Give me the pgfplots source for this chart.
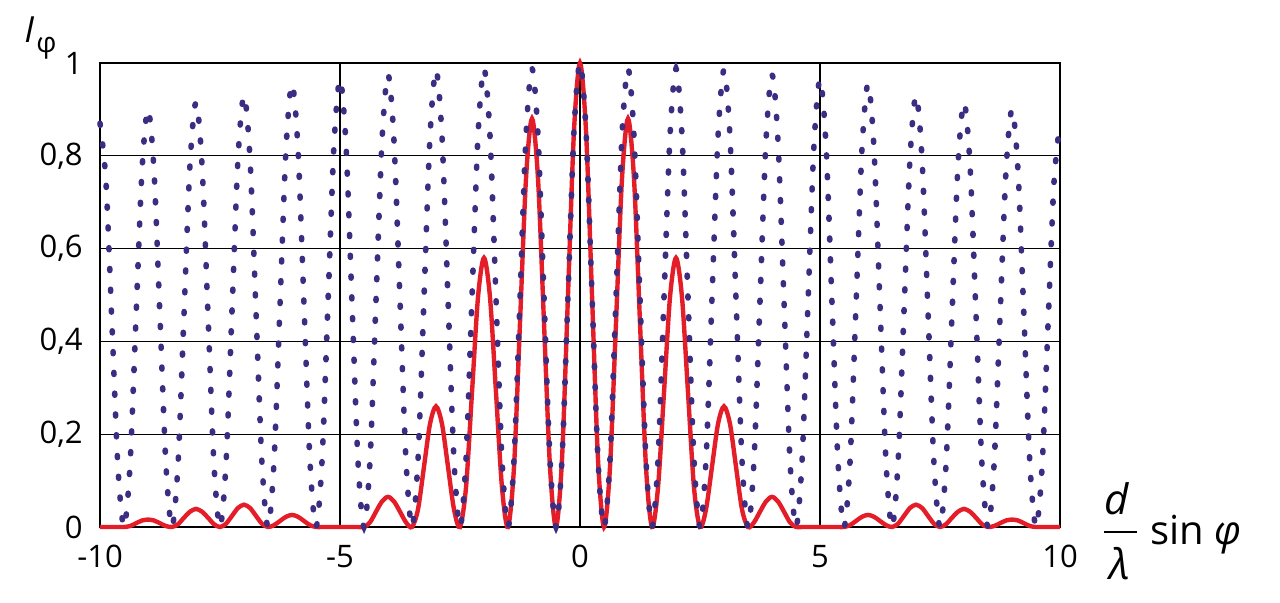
\documentclass[border=0pt]{standalone}
\usepackage{pgfplots}
\usepackage{pgfplotstable}
\pgfplotsset{compat=1.18}
\usepackage{fontspec}
\setmainfont{Open Sans}
\definecolor{dotblue}{RGB}{58,45,130}
\definecolor{myred}{RGB}{228,30,40}
\pgfplotstableread{
x d r
-10 0.87 0
-9.875 0.743 0
-9.75 0.435 0
-9.625 0.127 0
-9.5 0 0
-9.375 0.132 0.002
-9.25 0.45 0.008
-9.125 0.768 0.014
-9 0.90 0.016
-8.875 0.768 0.014
-8.75 0.45 0.008
-8.625 0.132 0.002
-8.5 0 0
-8.375 0.134 0.006
-8.25 0.458 0.020
-8.125 0.781 0.033
-8 0.915 0.039
-7.875 0.781 0.033
-7.75 0.458 0.020
-7.625 0.134 0.006
-7.5 0 0
-7.375 0.136 0.007
-7.25 0.465 0.024
-7.125 0.794 0.041
-7 0.93 0.048
-6.875 0.794 0.041
-6.75 0.465 0.024
-6.625 0.136 0.007
-6.5 0 0
-6.375 0.140 0.004
-6.25 0.478 0.013
-6.125 0.815 0.022
-6 0.955 0.026
-5.875 0.815 0.022
-5.75 0.478 0.013
-5.625 0.140 0.004
-5.5 0 0
-5.375 0.141 0
-5.25 0.483 0
-5.125 0.824 0
-5 0.965 0
-4.875 0.824 0
-4.75 0.483 0
-4.625 0.141 0
-4.5 0 0
-4.375 0.143 0.010
-4.25 0.488 0.033
-4.125 0.832 0.055
-4 0.975 0.065
-3.875 0.832 0.055
-3.75 0.488 0.033
-3.625 0.143 0.010
-3.5 0 0
-3.375 0.144 0.038
-3.25 0.493 0.130
-3.125 0.841 0.222
-3 0.985 0.260
-2.875 0.841 0.222
-2.75 0.493 0.130
-2.625 0.144 0.038
-2.5 0 0
-2.375 0.145 0.085
-2.25 0.494 0.290
-2.125 0.843 0.495
-2 0.988 0.580
-1.875 0.843 0.495
-1.75 0.494 0.290
-1.625 0.145 0.085
-1.5 0 0
-1.375 0.145 0.129
-1.25 0.494 0.440
-1.125 0.843 0.751
-1 0.988 0.880
-0.875 0.843 0.751
-0.75 0.494 0.440
-0.625 0.145 0.129
-0.5 0 0
-0.375 0.146 0.146
-0.25 0.5 0.5
-0.125 0.854 0.854
0 1 1
0.125 0.854 0.854
0.25 0.5 0.5
0.375 0.146 0.146
0.5 0 0
0.625 0.145 0.129
0.75 0.494 0.440
0.875 0.843 0.751
1 0.988 0.880
1.125 0.843 0.751
1.25 0.494 0.440
1.375 0.145 0.129
1.5 0 0
1.625 0.145 0.085
1.75 0.494 0.290
1.875 0.843 0.495
2 0.988 0.580
2.125 0.843 0.495
2.25 0.494 0.290
2.375 0.145 0.085
2.5 0 0
2.625 0.144 0.038
2.75 0.493 0.130
2.875 0.841 0.222
3 0.985 0.260
3.125 0.841 0.222
3.25 0.493 0.130
3.375 0.144 0.038
3.5 0 0
3.625 0.143 0.010
3.75 0.488 0.033
3.875 0.832 0.055
4 0.975 0.065
4.125 0.832 0.055
4.25 0.488 0.033
4.375 0.143 0.010
4.5 0 0
4.625 0.141 0
4.75 0.483 0
4.875 0.824 0
5 0.965 0
5.125 0.824 0
5.25 0.483 0
5.375 0.141 0
5.5 0 0
5.625 0.140 0.004
5.75 0.478 0.013
5.875 0.815 0.022
6 0.955 0.026
6.125 0.815 0.022
6.25 0.478 0.013
6.375 0.140 0.004
6.5 0 0
6.625 0.136 0.007
6.75 0.465 0.024
6.875 0.794 0.041
7 0.93 0.048
7.125 0.794 0.041
7.25 0.465 0.024
7.375 0.136 0.007
7.5 0 0
7.625 0.134 0.006
7.75 0.458 0.020
7.875 0.781 0.033
8 0.915 0.039
8.125 0.781 0.033
8.25 0.458 0.020
8.375 0.134 0.006
8.5 0 0
8.625 0.132 0.002
8.75 0.45 0.008
8.875 0.768 0.014
9 0.90 0.016
9.125 0.768 0.014
9.25 0.45 0.008
9.375 0.132 0.002
9.5 0 0
9.625 0.127 0
9.75 0.435 0
9.875 0.743 0
10 0.87 0
}\data
\begin{document}
\begin{tikzpicture}
\useasboundingbox (-50pt,-38pt) rectangle (590pt,263.5pt);
\begin{axis}[
  name=ax, at={(0,0)}, anchor=south west,
  scale only axis, width=480pt, height=232pt,
  xmin=-10, xmax=10, ymin=0, ymax=1,
  xtick={-10,-5,0,5,10}, xticklabels={-10,-5,0,5,10},
  ytick={0,0.2,0.4,0.6,0.8,1}, yticklabels={0,{0,2},{0,4},{0,6},{0,8},1},
  grid=major, major grid style={black, line width=0.6pt},
  axis line style={black, line width=0.7pt},
  major tick length=0pt,
  tick label style={font=\fontsize{15.5}{15.5}\selectfont},
  xticklabel style={anchor=north, inner sep=0pt, yshift=-9pt},
  yticklabel style={anchor=east, inner sep=0pt, xshift=-8.5pt},
  clip=false,
]
\addplot[color=myred, line width=2.2pt, smooth, mark=none] table[x=x,y=r] {\data};
\addplot[color=dotblue, line width=2.8pt, line cap=round, dash pattern=on 1pt off 9.4pt, smooth, mark=none] table[x=x,y=d] {\data};
\end{axis}
\node[anchor=base west, inner sep=0pt] at (-38pt,242pt) {\fontsize{18}{18}\selectfont\itshape I};
\node[anchor=base west, inner sep=0pt] at (-32pt,237pt) {\fontsize{14}{14}\selectfont φ};
\node[anchor=base, inner sep=0pt] at (508.5pt,6pt) {\fontsize{21}{21}\selectfont\itshape d};
\draw[line width=0.8pt] (502pt,-2.5pt) -- (518.5pt,-2.5pt);
\node[anchor=base, inner sep=0pt] at (509.75pt,-26.5pt) {\fontsize{21}{21}\selectfont\itshape λ};
\node[anchor=base west, inner sep=0pt] at (525pt,-9pt) {\fontsize{20}{20}\selectfont sin \itshape φ};
\end{tikzpicture}
\end{document}
